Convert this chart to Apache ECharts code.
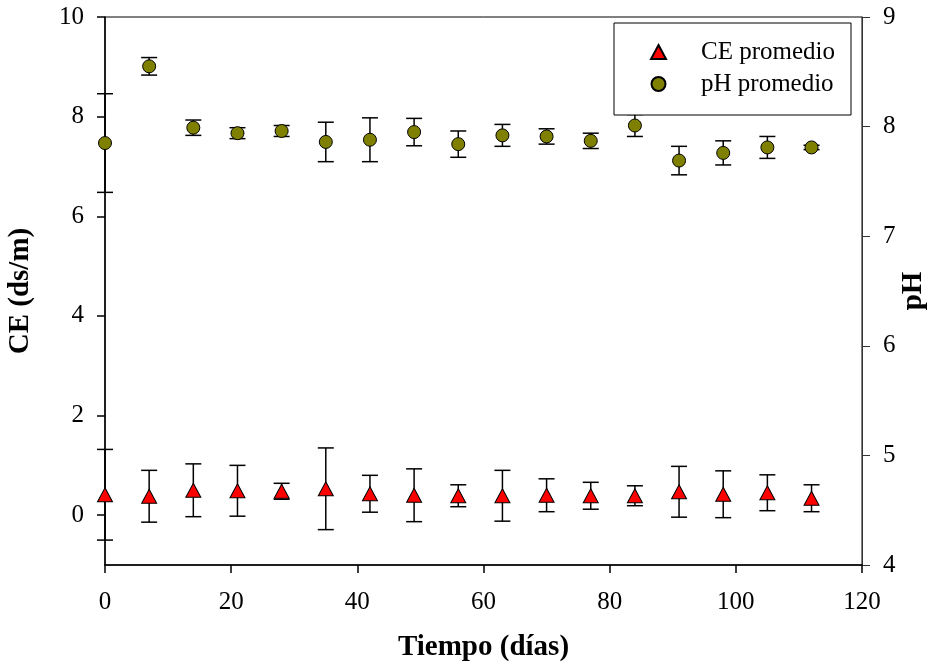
<!DOCTYPE html>
<html>
<head>
<meta charset="utf-8">
<script src="https://cdn.jsdelivr.net/npm/echarts@6/dist/echarts.min.js"></script>
<style>
  html, body { margin: 0; padding: 0; background: #fff; }
  #chart { width: 927px; height: 668px; }
</style>
</head>
<body>
<div id="chart"></div>
<script>
// Sampling days
const days = [0, 7, 14, 21, 28, 35, 42, 49, 56, 63, 70, 77, 84, 91, 98, 105, 112];
// Electrical conductivity (ds/m): mean and standard deviation
const ceMean = [0.41, 0.38, 0.50, 0.49, 0.48, 0.53, 0.43, 0.40, 0.39, 0.39, 0.40, 0.39, 0.39, 0.47, 0.42, 0.45, 0.34];
const ceErr  = [0.91, 0.52, 0.53, 0.51, 0.16, 0.82, 0.37, 0.53, 0.22, 0.51, 0.33, 0.27, 0.20, 0.51, 0.47, 0.36, 0.27];
// pH: mean and standard deviation
const phMean = [7.85, 8.55, 7.99, 7.94, 7.96, 7.86, 7.88, 7.95, 7.84, 7.92, 7.91, 7.87, 8.01, 7.69, 7.76, 7.81, 7.81];
const phErr  = [0.45, 0.08, 0.07, 0.05, 0.05, 0.18, 0.20, 0.125, 0.12, 0.10, 0.07, 0.07, 0.10, 0.13, 0.11, 0.10, 0.02];
// Tick values
const ceTicks = [0, 2, 4, 6, 8, 10];

const FONT = "'Liberation Serif', 'Times New Roman', serif";

const chart = echarts.init(document.getElementById('chart'), null, { renderer: 'canvas' });

function errorBar(params, api) {
  const x = api.value(0);
  const top = api.coord([x, api.value(2)]);
  const bot = api.coord([x, api.value(1)]);
  const half = 8;
  const style = { stroke: '#000', lineWidth: 1.5 };
  return {
    type: 'group',
    children: [
      { type: 'line', shape: { x1: top[0], y1: top[1], x2: bot[0], y2: bot[1] }, style },
      { type: 'line', shape: { x1: top[0] - half, y1: top[1], x2: top[0] + half, y2: top[1] }, style },
      { type: 'line', shape: { x1: bot[0] - half, y1: bot[1], x2: bot[0] + half, y2: bot[1] }, style }
    ]
  };
}

const ceBars = days.map((d, i) => [d, ceMean[i] - ceErr[i], ceMean[i] + ceErr[i]]);
const phBars = days.map((d, i) => [d, phMean[i] - phErr[i], phMean[i] + phErr[i]]);

const labelStyle = { fontFamily: FONT, fontSize: 25, color: '#000' };
const nameStyle = { fontFamily: FONT, fontSize: 29, fontWeight: 'bold', color: '#000' };

chart.setOption({
  animation: false,
  backgroundColor: '#fff',
  grid: {
    left: 105, top: 17, width: 757, height: 548,
    outerBoundsMode: 'none', containLabel: false,
    show: true, borderColor: '#000', borderWidth: 1, backgroundColor: 'transparent'
  },
  legend: {
    orient: 'vertical',
    left: 614, top: 23,
    padding: [16, 16, 18, 36],
    itemWidth: 15, itemHeight: 14, itemGap: 6,
    backgroundColor: '#fff',
    borderColor: '#000', borderWidth: 1,
    textStyle: { fontFamily: FONT, fontSize: 25, color: '#000', lineHeight: 26, padding: [0, 0, 0, 30] },
    data: [
      { name: 'CE promedio', icon: 'triangle' },
      { name: 'pH promedio', icon: 'circle' }
    ]
  },
  xAxis: {
    type: 'value', min: 0, max: 120, interval: 20,
    name: 'Tiempo (días)', nameLocation: 'middle', nameGap: 68, nameMoveOverlap: false, nameTextStyle: nameStyle,
    axisLine: { onZero: false, lineStyle: { color: '#000', width: 1.5 } },
    axisTick: { show: true, inside: false, length: 8, lineStyle: { color: '#000', width: 1.5 } },
    axisLabel: Object.assign({ margin: 25 }, labelStyle),
    splitLine: { show: false }
  },
  yAxis: [
    {
      type: 'value', min: -1, max: 10, position: 'left',
      name: 'CE (ds/m)', nameLocation: 'middle', nameGap: 70, nameRotate: 90, nameMoveOverlap: false, nameTextStyle: nameStyle,
      axisLine: { show: true, onZero: false, lineStyle: { color: '#000', width: 1.5 } },
      axisTick: { show: true, inside: false, length: 8, customValues: ceTicks, lineStyle: { color: '#000', width: 1.5 } },
      axisLabel: Object.assign({ margin: 21, customValues: ceTicks }, labelStyle),
      splitLine: { show: false }
    },
    {
      type: 'value', min: 4, max: 9, interval: 1, position: 'right',
      name: 'pH', nameLocation: 'middle', nameGap: 37, nameRotate: 90, nameMoveOverlap: false, nameTextStyle: nameStyle,
      axisLine: { show: true, onZero: false, lineStyle: { color: '#333', width: 1 } },
      axisTick: { show: true, inside: false, length: 8, lineStyle: { color: '#333', width: 1 } },
      axisLabel: Object.assign({ margin: 21 }, labelStyle),
      splitLine: { show: false }
    }
  ],
  series: [
    {
      name: 'CE error', type: 'custom', yAxisIndex: 0, renderItem: errorBar,
      data: ceBars, z: 2, silent: true
    },
    {
      name: 'pH error', type: 'custom', yAxisIndex: 1, renderItem: errorBar,
      data: phBars, z: 2, silent: true
    },
    {
      name: 'CE promedio', type: 'scatter', yAxisIndex: 0,
      symbol: 'triangle', symbolSize: [15, 14],
      itemStyle: { color: '#FF0000', borderColor: '#000', borderWidth: 1, opacity: 1 },
      emphasis: { disabled: true },
      data: days.map((d, i) => [d, ceMean[i]]), z: 3
    },
    {
      name: 'pH promedio', type: 'scatter', yAxisIndex: 1,
      symbol: 'circle', symbolSize: 13,
      itemStyle: { color: '#808000', borderColor: '#000', borderWidth: 1, opacity: 1 },
      emphasis: { disabled: true },
      data: days.map((d, i) => [d, phMean[i]]), z: 3
    }
  ]
});
</script>
</body>
</html>
